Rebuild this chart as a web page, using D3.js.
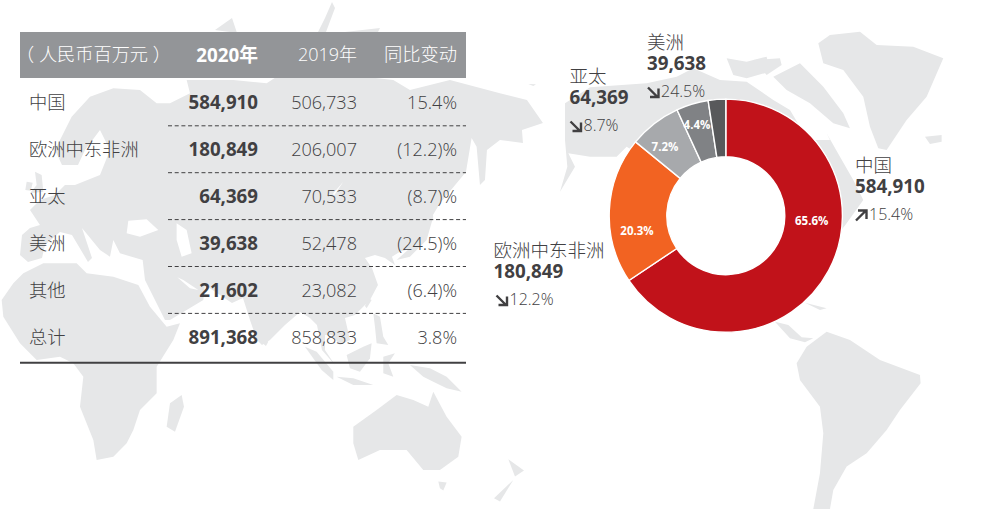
<!DOCTYPE html>
<html><head><meta charset="utf-8">
<script src="https://cdn.jsdelivr.net/npm/d3@7/dist/d3.min.js"></script>
<style>
html,body{margin:0;padding:0;background:#fff}
svg{display:block}
text{font-family:"Open Sans","Noto Sans CJK SC",sans-serif;fill:#414042}
</style></head><body><svg id="c" width="999" height="509"></svg>
<script>
// ---- data ----
const regions = ["中国","欧洲中东非洲","亚太","美洲","其他"];
const revenue2020 = [584910,180849,64369,39638,21602];
const revenue2019 = [506733,206007,70533,52478,23082];
const changeLabels = ["15.4%","(12.2)%","(8.7)%","(24.5)%","(6.4)%"];
const totalLabel = "总计";
const total2020 = 891368, total2019 = 858833, totalChange = "3.8%";
const headers = ["（ 人民币百万元 ）","2020年","2019年","同比变动"];
const shareLabels = ["65.6%","20.3%","7.2%","4.4%",""];
const calloutChange = ["15.4%","12.2%","8.7%","24.5%"];
const calloutUp = [true,false,false,false];
const sliceColors = ["#c1121a","#f26322","#a7a9ac","#808285","#58595b"];

// ---- decorative background map (outline traced by eye, in zoom-crop units) ----
const mapLeft = [
 // Eurasia
 [[215,170],[270,110],[340,85],[420,90],[470,130],[510,130],[570,100],[560,60],[600,60],[700,60],[800,70],[830,50],[1000,40],[1180,60],[1230,90],[1350,60],[1500,100],[1521,105],[1581,120],[1629,189],[1566,210],[1569,249],[1500,240],[1461,270],[1455,360],[1440,375],[1430,260],[1415,234],[1398,336],[1320,430],[1290,480],[1250,560],[1200,575],[1176,590],[1185,615],[1155,594],[1125,585],[1095,594],[1116,624],[1134,675],[1110,720],[1065,765],[1035,774],[1050,840],[1020,855],[996,825],[975,825],[975,870],[1005,915],[966,870],[951,795],[930,774],[900,756],[855,795],[810,840],[786,855],[771,840],[750,780],[729,714],[696,729],[615,675],[610,720],[510,780],[495,780],[435,660],[428,600],[360,580],[340,540],[330,590],[300,570],[246,504],[276,594],[264,606],[216,525],[180,516],[135,555],[126,594],[84,606],[60,585],[66,525],[90,504],[120,495],[90,450],[120,420],[165,405],[195,375],[225,375],[300,345],[330,270],[300,210],[255,270],[234,315],[186,315],[165,270]],
 // Africa
 [[70,640],[130,610],[230,610],[260,640],[340,650],[415,675],[450,740],[500,800],[540,790],[520,840],[470,920],[470,1000],[420,1050],[400,1110],[380,1150],[340,1190],[290,1200],[280,1140],[240,1040],[250,950],[220,910],[180,890],[110,900],[60,850],[10,770],[5,720],[40,670]],
 // Britain, Ireland
 [[105,335],[125,345],[130,395],[90,400],[110,375]],[[80,365],[98,368],[92,392],[76,390]],
 // Madagascar
 [[545,1005],[552,1040],[525,1115],[500,1100],[510,1030]],
 // Sri Lanka
 [[790,832],[805,845],[798,858],[788,850]],
 // Japan
 [[1255,420],[1290,435],[1300,470],[1280,540],[1230,590],[1190,600],[1235,560],[1265,510]],
 // Sakhalin
 [[1380,230],[1400,240],[1385,300],[1372,290]],
 // Taiwan, Hainan
 [[1105,715],[1115,720],[1100,745],[1095,738]],[[1030,742],[1048,745],[1040,760],[1028,755]],
 // Philippines
 [[1120,760],[1140,770],[1150,830],[1165,855],[1130,850],[1125,800]],
 // Sumatra, Java
 [[915,860],[950,875],[1000,935],[1000,960],[965,930]],[[1010,950],[1060,955],[1120,975],[1060,975]],
 // Borneo, Sulawesi
 [[1040,885],[1090,860],[1115,850],[1110,895],[1080,935],[1050,925]],[[1150,890],[1185,880],[1165,910],[1180,950],[1150,940]],
 // New Guinea
 [[1230,915],[1290,925],[1340,950],[1385,995],[1340,985],[1300,965],[1270,950]],
 // Australia
 [[1060,1100],[1130,1050],[1190,1005],[1240,1020],[1285,1040],[1300,995],[1340,1070],[1385,1130],[1375,1190],[1320,1230],[1270,1230],[1220,1170],[1140,1170],[1075,1200],[1060,1150]],
 [[1315,1265],[1340,1268],[1330,1292],[1320,1285]]
];
const mapLeftHoles = [
 [[385,482],[440,478],[475,510],[420,530],[380,520]],           // Black Sea
 [[530,490],[560,510],[575,580],[545,590],[530,540]],           // Caspian
 [[532,652],[550,660],[595,690],[570,685]],                     // Persian Gulf
 [[1000,400],[1030,365],[1000,410]]                             // Baikal
];
const mapTop = [ [[215,30],[232,18],[237,33]], [[318,32],[325,18],[332,2],[335,8],[326,32]], [[345,32],[380,28],[378,32]] ];
const mapRight = [
 // Alaska & Canada
 [[255,310],[330,262],[500,250],[590,230],[640,205],[720,240],[800,245],[880,300],[930,330],[960,380],[1000,420],[1050,420],[1040,400],[1080,470],[1120,540],[1150,600],[1100,670],[1000,800],[950,800],[700,800],[600,540],[440,440],[410,470],[330,470],[265,460],[285,500],[240,575],[262,500],[255,420]],
 // Arctic islands
 [[740,175],[800,185],[860,170],[870,215],[800,235],[760,225]],
 [[880,230],[960,190],[1030,260],[1090,340],[1110,385],[1060,370],[990,310],[920,270]],
 [[820,180],[900,175],[905,195],[860,225]],
 // Greenland
 [[1015,130],[1050,105],[1140,95],[1190,135],[1300,140],[1390,175],[1340,290],[1280,360],[1220,450],[1195,445],[1170,380],[1150,290],[1090,210],[1030,190]],
 // Iceland
 [[1335,410],[1385,405],[1385,425],[1350,432]],
 // Small Pacific fragment
 [[145,252],[168,253],[160,258]],
 // Cuba
 [[975,908],[1040,925],[1020,930]],
 // Central America
 [[885,965],[925,975],[965,1012],[1000,1015],[975,1027],[930,1015]],
 // South America
 [[950,1090],[980,1040],[1040,995],[1110,1020],[1200,1080],[1320,1125],[1322,1150],[1260,1230],[1220,1290],[1160,1360],[1100,1400],[1060,1470],[1050,1527],[1000,1527],[1020,1420],[1030,1300],[1020,1220],[960,1140]],
 // New Zealand
 [[85,1378],[132,1412],[105,1430]],[[100,1440],[60,1505],[42,1495]]
];

// ---- setup ----
const svg = d3.select("#c");
const W=999,H=509;
svg.append("rect").attr("width",W).attr("height",H).attr("fill","#fff");
const line = d3.line().curve(d3.curveLinearClosed);
const mapFill="#e6e7e8";
const gMap = svg.append("g");
const gL = gMap.append("g").attr("transform","translate(0,60) scale(0.3333)");
gL.selectAll("path.l").data(mapLeft).join("path").attr("d",line).attr("fill",mapFill);
gL.selectAll("path.h").data(mapLeftHoles).join("path").attr("class","h").attr("d",line).attr("fill","#fff");
const gT = gMap.append("g");
gT.selectAll("path").data(mapTop).join("path").attr("d",line).attr("fill",mapFill);
const gR = gMap.append("g").attr("transform","translate(480,0) scale(0.3333)");
gR.selectAll("path").data(mapRight).join("path").attr("d",line).attr("fill",mapFill);

// ---- table ----
const tX0=20,tX1=466, headTop=32, headBot=78, ruleX=168;
const colRight=[258,357,457];
const rowY=d3.scalePoint().domain(d3.range(6)).range([102.5,337.5]);
const dashY=d3.scalePoint().domain(d3.range(5)).range([125.8,313.4]);
const fs=18;
const fmt=d3.format(",");
const t=svg.append("g");
t.append("rect").attr("x",tX0).attr("y",headTop).attr("width",tX1-tX0).attr("height",headBot-headTop).attr("fill","#939598");
const hText=(s,x,anchor,w,size)=>t.append("text").text(s).attr("x",x).attr("y",55).attr("dy","0.35em").attr("text-anchor",anchor).attr("font-size",size).attr("font-weight",w).style("fill","#fff");
hText(headers[0],16,"start",300,18.2).attr("xml:space","preserve");
hText(headers[1],colRight[0],"end",700,18.8);
hText(headers[2],colRight[1],"end",300,18);
hText(headers[3],colRight[2],"end",300,18.3);
const rows=regions.map((r,i)=>({name:r,a:revenue2020[i],b:revenue2019[i],c:changeLabels[i]}));
rows.push({name:totalLabel,a:total2020,b:total2019,c:totalChange});
const rg=t.selectAll("g.row").data(rows).join("g").attr("transform",(d,i)=>`translate(0,${rowY(i)})`);
const cell=(sel,f,x,anchor,w,size)=>sel.append("text").text(f).attr("x",x).attr("dy","0.35em").attr("text-anchor",anchor).attr("font-size",size).attr("font-weight",w);
cell(rg,d=>d.name,29,"start",300,18.3);
cell(rg,d=>fmt(d.a),colRight[0],"end",700,18.7);
cell(rg,d=>fmt(d.b),colRight[1],"end",300,18.1);
cell(rg,d=>d.c,colRight[2],"end",300,18.1);
t.selectAll("line.d").data(d3.range(5)).join("line").attr("class","d").attr("x1",ruleX).attr("x2",tX1).attr("y1",d=>dashY(d)).attr("y2",d=>dashY(d)).attr("stroke","#414042").attr("stroke-width",1).attr("stroke-dasharray","4 2.7");
t.append("line").attr("x1",tX0).attr("x2",tX1).attr("y1",362.8).attr("y2",362.8).attr("stroke","#414042").attr("stroke-width",2);

// ---- donut ----
const cx=725.8,cy=215.7,rO=116.6,rI=59;
const pie=d3.pie().sort(null).value(d=>d);
const arc=d3.arc().innerRadius(rI).outerRadius(rO);
const gD=svg.append("g").attr("transform",`translate(${cx},${cy})`);
gD.append("circle").attr("r",rI).attr("fill","#fff");
gD.selectAll("path").data(pie(revenue2020)).join("path").attr("d",arc).attr("fill",(d,i)=>sliceColors[i]).attr("stroke","#fff").attr("stroke-width",1.4);
const shareXY=[[811.7,220.5],[637,231],[665,146.7],[697,124.7]];
svg.selectAll("text.share").data(shareXY).join("text").attr("class","share").text((d,i)=>shareLabels[i])
 .attr("x",d=>d[0]).attr("y",d=>d[1]).attr("dy","0.35em").attr("text-anchor","middle").attr("font-size",11.5).attr("font-weight",700).style("fill","#fff");

// ---- callouts ----
const callXY=[[855,166],[493.5,251],[569.5,77],[647,43]];
const call=svg.selectAll("g.call").data(callXY).join("g").attr("class","call").attr("transform",d=>`translate(${d[0]},${d[1]})`);
call.append("text").text((d,i)=>regions[i]).attr("dy","0.35em").attr("font-size",18.5).attr("font-weight",300);
call.append("text").text((d,i)=>fmt(revenue2020[i])).attr("y",20).attr("dy","0.35em").attr("font-size",18.8).attr("font-weight",700);
call.append("text").text((d,i)=>calloutChange[i]).attr("x",(d,i)=>i===1?16:14).attr("y",48.5).attr("dy","0.35em").attr("font-size",16).attr("font-weight",300);
const arrow=call.append("g").attr("transform",(d,i)=>`translate(${i===1?2:0},${43})`);
arrow.append("path").attr("fill","none").attr("stroke","#414042").attr("stroke-width",2.4)
 .attr("d",(d,i)=>calloutUp[i]?"M1,11.5L11,1.5M3,1.5H11.5V10":"M1,1.5L11,11.5M3,11H11.5V2.5");
</script></body></html>
